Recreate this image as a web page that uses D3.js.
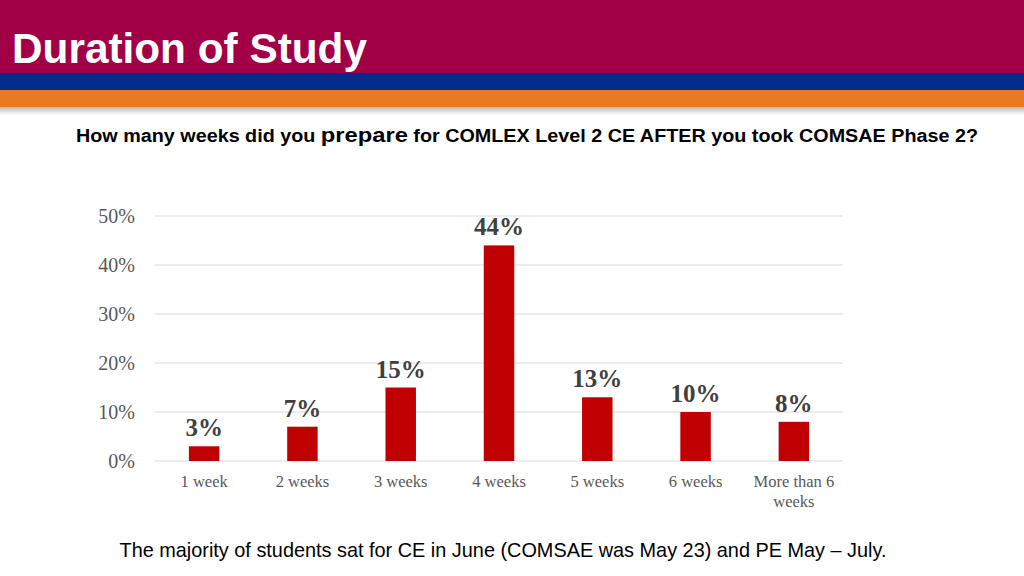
<!DOCTYPE html>
<html><head><meta charset="utf-8">
<script src="https://cdn.jsdelivr.net/npm/d3@7"></script>
<style>body{margin:0;background:#fff;}svg{display:block;}</style>
</head><body>
<svg id="c" width="1024" height="576"></svg>
<script>
const categories = ["1 week","2 weeks","3 weeks","4 weeks","5 weeks","6 weeks","More than 6 weeks"];
const values = [3,7,15,44,13,10,8];
const yTicks = [0,10,20,30,40,50];
const title = "Duration of Study";
const footer = "The majority of students sat for CE in June (COMSAE was May 23) and PE May \u2013 July.";

const svg = d3.select("#c");
const defs = svg.append("defs");
const g1 = defs.append("linearGradient").attr("id","sh").attr("x1",0).attr("x2",0).attr("y1",0).attr("y2",1);
g1.append("stop").attr("offset","0").attr("stop-color","#bbb");
g1.append("stop").attr("offset","1").attr("stop-color","#fff");

svg.append("rect").attr("x",0).attr("y",0).attr("width",1024).attr("height",73).attr("fill","#A20046");
svg.append("rect").attr("x",0).attr("y",73).attr("width",1024).attr("height",17).attr("fill","#002D8A");
svg.append("rect").attr("x",0).attr("y",90).attr("width",1024).attr("height",17).attr("fill","#EA7A22");
svg.append("rect").attr("x",0).attr("y",107).attr("width",1024).attr("height",8).attr("fill","url(#sh)");

svg.append("text").attr("x",12).attr("y",63).attr("fill","#fff")
  .attr("font-family","Liberation Sans, Arial, sans-serif").attr("font-weight","bold")
  .attr("font-size",43).attr("textLength",355).attr("lengthAdjust","spacingAndGlyphs").text(title);

const sub = svg.append("text").attr("x",527).attr("y",142).attr("text-anchor","middle")
  .attr("font-family","Liberation Sans, Arial, sans-serif").attr("font-weight","bold").attr("fill","#000")
  .attr("font-size",17.5).attr("textLength",902).attr("lengthAdjust","spacingAndGlyphs");
sub.append("tspan").text("How many weeks did you ");
sub.append("tspan").attr("font-size",21).text("prepare");
sub.append("tspan").text(" for COMLEX Level 2 CE AFTER you took COMSAE Phase 2?");

const x = d3.scaleBand().domain(categories).range([155,843]).paddingInner(0.69).paddingOuter(0.345);
const y = d3.scaleLinear().domain([0,50]).range([461,216]);

const grid = svg.append("g");
grid.selectAll("line").data(yTicks).join("line")
  .attr("x1",155).attr("x2",843).attr("y1",d=>y(d)).attr("y2",d=>y(d))
  .attr("stroke","#d9d9d9").attr("stroke-width",1.2);

const yAxis = svg.append("g").attr("transform","translate(135,0)")
  .call(d3.axisLeft(y).tickValues(yTicks).tickFormat(d=>d+"%").tickSize(0).tickPadding(0));
yAxis.select(".domain").remove();
yAxis.selectAll("text").attr("font-family","Liberation Serif, Times New Roman, serif").attr("font-size",20)
  .attr("fill","#595959").attr("dy","0.32em");

svg.append("g").selectAll("rect").data(values).join("rect")
  .attr("x",(d,i)=>x(categories[i])).attr("width",x.bandwidth())
  .attr("y",d=>y(d)).attr("height",d=>y(0)-y(d)).attr("fill","#C00000");

svg.append("g").selectAll("text").data(values).join("text")
  .attr("x",(d,i)=>x(categories[i])+x.bandwidth()/2).attr("y",d=>y(d)-10)
  .attr("text-anchor","middle").attr("font-family","Liberation Serif, Times New Roman, serif")
  .attr("font-weight","bold").attr("font-size",25).attr("fill","#404040").text(d=>d+"%");

const xAxis = svg.append("g").attr("transform","translate(0,461)")
  .call(d3.axisBottom(x).tickSize(0).tickPadding(0).tickFormat(""));
xAxis.select(".domain").remove();
xAxis.selectAll(".tick").each(function(d){
  const t = d3.select(this).append("text").attr("fill","#595959").attr("text-anchor","middle")
    .attr("font-family","Liberation Serif, Times New Roman, serif").attr("font-size",16.5);
  const lines = d === "More than 6 weeks" ? ["More than 6","weeks"] : [d];
  lines.forEach((l,i)=>t.append("tspan").attr("x",0).attr("y",26+i*20).text(l));
});

svg.append("text").attr("x",503).attr("y",557).attr("text-anchor","middle")
  .attr("font-family","Liberation Sans, Arial, sans-serif").attr("font-size",21).attr("fill","#000")
  .attr("textLength",767).attr("lengthAdjust","spacingAndGlyphs")
  .text(footer);
</script>
</body></html>
